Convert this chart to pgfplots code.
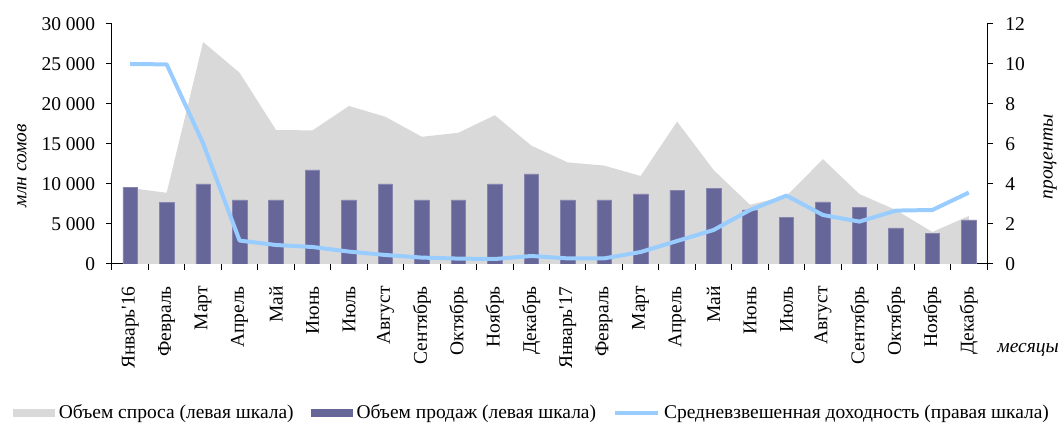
\documentclass[border=0pt]{standalone}
\usepackage{fontspec}
\setmainfont{Liberation Serif}
\usepackage{pgfplots}
\pgfplotsset{compat=1.18}
\definecolor{demgray}{HTML}{D9D9D9}
\definecolor{salepurple}{HTML}{666699}
\definecolor{saleedge}{HTML}{8585AD}
\definecolor{yieldblue}{HTML}{99CCFF}
\begin{document}
\fontsize{14.6}{17}\selectfont
\begin{tikzpicture}
\useasboundingbox (-84pt,-119.25pt) rectangle (711pt,198pt);
\pgfplotsset{
  base/.style={
    scale only axis, width=656.25pt, height=180pt,
    xmin=-0.5, xmax=23.5,
    axis line style={-, black, line width=0.75pt},
    tick style={black, line width=0.75pt},
    tick align=outside,
    major tick length=4.5pt,
    /pgf/number format/assume math mode=true,
  },
}
\begin{axis}[base,
  ymin=0, ymax=30000,
  ytick={0,5000,...,30000},
  scaled y ticks=false,
  /pgf/number format/1000 sep={\ },
  axis x line*=bottom, axis y line*=left,
  xtick={0,...,23},
  major x tick style={draw=none},
  minor xtick={-0.5,0.5,...,23.5},
  minor tick length=4.5pt,
  minor x tick style={black, line width=0.75pt},
  xticklabels={Январь\textquotesingle16,Февраль,Март,Апрель,Май,Июнь,Июль,Август,Сентябрь,Октябрь,Ноябрь,Декабрь,Январь\textquotesingle17,Февраль,Март,Апрель,Май,Июнь,Июль,Август,Сентябрь,Октябрь,Ноябрь,Декабрь},
  xticklabel style={rotate=90, anchor=east, inner sep=0pt, xshift=0pt},
  xticklabel shift=12pt,
  yticklabel style={inner sep=0pt},
  yticklabel shift=8pt,
  ylabel={\itshape млн сомов},
  every axis y label/.style={at={(axis description cs:-0.103,0.41)}, rotate=90, anchor=center},
  xlabel={\itshape месяцы},
  every axis x label/.style={at={(axis description cs:1.047,-0.358)}, anchor=center},
]
\addplot[fill=demgray, draw=none] coordinates {
(0,9500) (1,8900) (2,27750) (3,23900) (4,16750) (5,16700) (6,19750) (7,18400)
(8,15900) (9,16400) (10,18600) (11,14800) (12,12700) (13,12300) (14,11000) (15,17800)
(16,11750) (17,7400) (18,8500) (19,13100) (20,8750) (21,6750) (22,4000) (23,6000)
} \closedcycle;
\addplot[ybar, bar width=10.9pt, fill=salepurple, draw=saleedge, line width=0.5pt] coordinates {
(0,9600) (1,7650) (2,10000) (3,8000) (4,8000) (5,11750) (6,8000) (7,10000)
(8,8000) (9,8000) (10,10000) (11,11250) (12,8000) (13,8000) (14,8750) (15,9200)
(16,9480) (17,6750) (18,5850) (19,7750) (20,7100) (21,4500) (22,3850) (23,5500)
};
\end{axis}
\begin{axis}[base,
  ymin=0, ymax=12,
  ytick={0,2,...,12},
  axis x line=none, axis y line*=right,
  yticklabel style={inner sep=0pt},
  yticklabel shift=9pt,
  ylabel={\itshape проценты},
  every axis y label/.style={at={(axis description cs:1.072,0.446)}, rotate=90, anchor=center},
  legend columns=3,
  legend style={draw=none, fill=none, at={(axis description cs:-0.1131,-0.621)}, anchor=west,
    inner sep=0pt, nodes={inner sep=0pt, anchor=west},
    /tikz/every odd column/.append style={column sep=3pt},
    /tikz/every even column/.append style={column sep=13pt}},
]
\addlegendimage{legend image code/.code={\fill[demgray] (0pt,-2.5pt) rectangle (30.75pt,2.5pt);}}
\addlegendentry{Объем спроса (левая шкала)}
\addlegendimage{legend image code/.code={\fill[salepurple] (0pt,-2.5pt) rectangle (30.75pt,2.5pt);}}
\addlegendentry{Объем продаж (левая шкала)}
\addplot[yieldblue, line width=3pt, mark=none, line join=round,
  legend image code/.code={\draw[yieldblue, line width=3pt] (0pt,0pt) -- (32pt,0pt);}] coordinates {
(0,10.0) (1,9.98) (2,6.03) (3,1.17) (4,0.95) (5,0.85) (6,0.62) (7,0.45)
(8,0.32) (9,0.27) (10,0.25) (11,0.4) (12,0.28) (13,0.28) (14,0.6) (15,1.15)
(16,1.7) (17,2.7) (18,3.42) (19,2.45) (20,2.12) (21,2.67) (22,2.7) (23,3.57)
};
\addlegendentry{Средневзвешенная доходность (правая шкала)}
\end{axis}
\end{tikzpicture}
\end{document}
